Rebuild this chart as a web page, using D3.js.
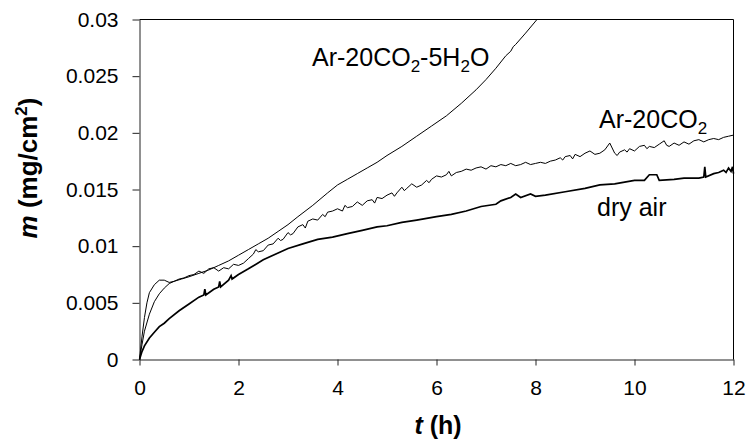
<!DOCTYPE html>
<html>
<head>
<meta charset="utf-8">
<script src="https://cdn.jsdelivr.net/npm/d3@7"></script>
<style>
body { margin: 0; background: #fff; }
svg { display: block; font-family: "Liberation Sans", Arial, sans-serif; }
.axis text { font-size: 21px; fill: #000; }
.axis path, .axis line { stroke: #222; }
</style>
</head>
<body>
<div id="chart"></div>
<script>
var w = 748;
var h = 448;

// axis ticks
var tTicks = [0, 2, 4, 6, 8, 10, 12];
var mTicks = [0, 0.005, 0.01, 0.015, 0.02, 0.025, 0.03];
var mTickLabels = ["0", "0.005", "0.01", "0.015", "0.02", "0.025", "0.03"];

// Ar-20CO2-5H2O  [t (h), m (mg/cm2)]
var h2oData = [
	[0, 0], [0.05, 0.0020], [0.1, 0.0037], [0.15, 0.0050], [0.2, 0.0059], [0.3, 0.0066],
	[0.4, 0.0070], [0.5, 0.0070], [0.6, 0.0068], [0.7, 0.0069], [0.85, 0.0071], [1.0, 0.0073],
	[1.2, 0.0076], [1.4, 0.0079], [1.6, 0.0083], [1.8, 0.0087], [2.0, 0.0092], [2.2, 0.0097],
	[2.4, 0.0102], [2.6, 0.0107], [2.8, 0.0113], [3.0, 0.0119], [3.2, 0.0126], [3.5, 0.0136],
	[3.8, 0.0147], [4.0, 0.0154], [4.2, 0.0159], [4.4, 0.0164], [4.6, 0.0169], [4.8, 0.0174],
	[5.0, 0.0180], [5.3, 0.0188], [5.6, 0.0197], [5.9, 0.0206], [6.2, 0.0215], [6.5, 0.0226],
	[6.8, 0.0238], [7.0, 0.0247], [7.2, 0.0257], [7.4, 0.0268], [7.5, 0.0272], [7.55, 0.0276],
	[7.6, 0.0278], [7.8, 0.0288], [8.03, 0.0300]
];

// Ar-20CO2
var co2Data = [
	[0, 0], [0.05, 0.0013], [0.1, 0.0025], [0.2, 0.0040], [0.3, 0.0051], [0.4, 0.0058],
	[0.5, 0.0063], [0.6, 0.0067], [0.7, 0.0069], [0.8, 0.0071], [0.9, 0.0072], [1.0, 0.0074],
	[1.1, 0.0075], [1.2, 0.0078], [1.3, 0.0076], [1.4, 0.0080], [1.5, 0.0081], [1.6, 0.0078],
	[1.7, 0.0081], [1.8, 0.0080], [1.9, 0.0084], [2.0, 0.0083], [2.1, 0.0085], [2.2, 0.0089],
	[2.3, 0.0093], [2.35, 0.0097], [2.4, 0.0095], [2.5, 0.0096], [2.6, 0.0101], [2.7, 0.0102],
	[2.8, 0.0107], [2.85, 0.0105], [2.9, 0.0106], [3.0, 0.0112], [3.05, 0.0110], [3.1, 0.0111],
	[3.2, 0.0117], [3.3, 0.0119], [3.35, 0.0116], [3.4, 0.0122], [3.5, 0.0124], [3.6, 0.0123],
	[3.7, 0.0128], [3.75, 0.0126], [3.8, 0.0130], [3.9, 0.0131], [4.0, 0.0133], [4.1, 0.0131],
	[4.15, 0.0136], [4.2, 0.0134], [4.3, 0.0135], [4.4, 0.0139], [4.5, 0.0136], [4.6, 0.0140],
	[4.7, 0.0141], [4.75, 0.0138], [4.8, 0.0143], [4.9, 0.0142], [5.0, 0.0145], [5.1, 0.0147],
	[5.15, 0.0144], [5.2, 0.0147], [5.3, 0.0152], [5.35, 0.0149], [5.4, 0.0151], [5.5, 0.0155],
	[5.6, 0.0152], [5.7, 0.0154], [5.8, 0.0158], [5.85, 0.0156], [5.9, 0.0159], [6.0, 0.0162],
	[6.1, 0.0161], [6.2, 0.0163], [6.25, 0.0166], [6.3, 0.0162], [6.4, 0.0165], [6.5, 0.0166],
	[6.6, 0.0168], [6.7, 0.0167], [6.8, 0.0169], [6.9, 0.0170], [7.0, 0.0168], [7.1, 0.0171],
	[7.2, 0.0170], [7.3, 0.0172], [7.4, 0.0171], [7.5, 0.0173], [7.6, 0.0171], [7.7, 0.0172],
	[7.8, 0.0174], [7.9, 0.0172], [8.0, 0.0173], [8.1, 0.0174], [8.2, 0.0173], [8.3, 0.0175],
	[8.4, 0.0176], [8.5, 0.0178], [8.55, 0.0176], [8.6, 0.0179], [8.7, 0.0180], [8.75, 0.0177],
	[8.8, 0.0181], [8.9, 0.0179], [9.0, 0.0182], [9.1, 0.0184], [9.2, 0.0181], [9.3, 0.0182],
	[9.4, 0.0185], [9.5, 0.0191], [9.6, 0.0182], [9.65, 0.0180], [9.7, 0.0183], [9.8, 0.0185],
	[9.85, 0.0183], [9.9, 0.0186], [10.0, 0.0184], [10.1, 0.0188], [10.2, 0.0189], [10.25, 0.0186],
	[10.3, 0.0188], [10.4, 0.0187], [10.5, 0.0190], [10.6, 0.0193], [10.65, 0.0189], [10.7, 0.0188],
	[10.8, 0.0191], [10.9, 0.0189], [11.0, 0.0192], [11.1, 0.0190], [11.2, 0.0193], [11.3, 0.0194],
	[11.4, 0.0192], [11.5, 0.0194], [11.6, 0.0195], [11.7, 0.0194], [11.8, 0.0196], [11.9, 0.0197],
	[12.0, 0.0198]
];

// dry air
var airData = [
	[0, 0], [0.05, 0.0007], [0.1, 0.0012], [0.2, 0.0019], [0.3, 0.0024], [0.4, 0.0029],
	[0.5, 0.0032], [0.6, 0.0036], [0.8, 0.0043], [1.0, 0.0049], [1.2, 0.0055], [1.3, 0.0057],
	[1.32, 0.0062], [1.34, 0.0057], [1.5, 0.0062], [1.6, 0.0064], [1.62, 0.0069], [1.64, 0.0064],
	[1.8, 0.0070], [1.85, 0.0074], [1.87, 0.0071], [2.0, 0.0075], [2.2, 0.0080], [2.5, 0.0088],
	[2.8, 0.0094], [3.0, 0.0098], [3.3, 0.0102], [3.6, 0.0106], [3.9, 0.0108], [4.2, 0.0111],
	[4.5, 0.0114], [4.8, 0.0117], [5.0, 0.0118], [5.3, 0.0121], [5.6, 0.0123], [6.0, 0.0126],
	[6.3, 0.0128], [6.6, 0.0131], [6.9, 0.0135], [7.2, 0.0137], [7.3, 0.0140], [7.5, 0.0143],
	[7.6, 0.0146], [7.7, 0.0143], [7.9, 0.0146], [8.0, 0.0144], [8.2, 0.0145], [8.6, 0.0148],
	[9.0, 0.0151], [9.3, 0.0154], [9.6, 0.0155], [10.0, 0.0158], [10.2, 0.0158], [10.3, 0.0163],
	[10.45, 0.0163], [10.5, 0.0158], [10.8, 0.0159], [11.0, 0.0160], [11.3, 0.0160], [11.4, 0.0161],
	[11.42, 0.0170], [11.44, 0.0161], [11.6, 0.0164], [11.7, 0.0165], [11.8, 0.0167], [11.85, 0.0165],
	[11.9, 0.0169], [11.95, 0.0166], [11.98, 0.0170], [12.0, 0.0164]
];

var x0 = 139.5, x1 = 733.5, y0 = 359.5, y1 = 19.5;

var svg = d3.select("#chart").append("svg")
	.attr("width", w)
	.attr("height", h);

var x = d3.scaleLinear().domain([0, 12]).range([x0, x1]);
var y = d3.scaleLinear().domain([0, 0.03]).range([y0, y1]);

//axes
svg.append("g")
	.attr("class", "axis")
	.attr("transform", "translate(0," + y0 + ")")
	.call(d3.axisBottom(x).tickValues(tTicks).tickSize(6).tickSizeOuter(0).tickPadding(15));

svg.append("g")
	.attr("class", "axis")
	.attr("transform", "translate(" + x0 + ",0)")
	.call(d3.axisLeft(y).tickValues(mTicks).tickSize(7).tickSizeOuter(0).tickPadding(14)
		.tickFormat(function(d, i) { return mTickLabels[i]; }));

//frame top and right
svg.append("line").attr("x1", x0).attr("y1", y1).attr("x2", x1).attr("y2", y1).attr("stroke", "#000");
svg.append("line").attr("x1", x1).attr("y1", y1).attr("x2", x1).attr("y2", y0).attr("stroke", "#000");

var line = d3.line()
	.x(function(d) { return x(d[0]); })
	.y(function(d) { return y(d[1]); });

svg.append("path").datum(h2oData).attr("d", line)
	.attr("fill", "none").attr("stroke", "#000").attr("stroke-width", 1);
svg.append("path").datum(co2Data).attr("d", line)
	.attr("fill", "none").attr("stroke", "#000").attr("stroke-width", 1);
svg.append("path").datum(airData).attr("d", line)
	.attr("fill", "none").attr("stroke", "#000").attr("stroke-width", 1.7);

//curve labels, subscripts shift down then the next part shifts back
function label(px, py, parts) {
	var t = svg.append("text").attr("x", px).attr("y", py).attr("font-size", 25);
	var down = false;
	parts.forEach(function(p) {
		var s = t.append("tspan").text(p.s);
		if (p.sub) {
			s.attr("font-size", 17).attr("dy", 6);
			down = true;
		} else if (down) {
			s.attr("dy", -6);
			down = false;
		}
	});
}
label(312, 66, [{s: "Ar-20CO"}, {s: "2", sub: true}, {s: "-5H"}, {s: "2", sub: true}, {s: "O"}]);
label(599, 128, [{s: "Ar-20CO"}, {s: "2", sub: true}]);
label(597, 216, [{s: "dry air"}]);

//axis titles
var xt = svg.append("text")
	.attr("x", 438).attr("y", 434)
	.attr("text-anchor", "middle")
	.attr("font-size", 25).attr("font-weight", "bold");
xt.append("tspan").attr("font-style", "italic").text("t");
xt.append("tspan").text(" (h)");

var yt = svg.append("text")
	.attr("transform", "translate(37,168) rotate(-90)")
	.attr("text-anchor", "middle")
	.attr("font-size", 26).attr("font-weight", "bold");
yt.append("tspan").attr("font-style", "italic").text("m");
yt.append("tspan").text(" (mg/cm");
yt.append("tspan").attr("font-size", 17).attr("dy", -10).text("2");
yt.append("tspan").attr("dy", 10).text(")");
</script>
</body>
</html>
